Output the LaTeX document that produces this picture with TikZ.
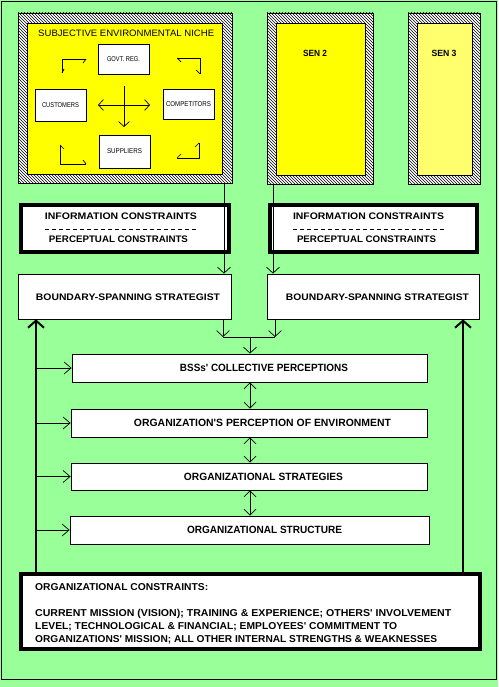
\documentclass[tikz,border=0pt]{standalone}
\usepackage{fontspec}
\setmainfont{Liberation Sans}
\usetikzlibrary{patterns,arrows.meta}
\definecolor{bggreen}{RGB}{153,255,153}
\definecolor{nicheyellow}{RGB}{255,255,0}
\definecolor{paleyellow}{RGB}{255,255,110}
\newcommand\fw[2]{\resizebox{#1pt}{\height}{#2}}
\newcommand\q{\textquotesingle}
\tikzset{
  wbox/.style={draw, fill=white, line width=0.8pt, inner sep=0pt},
  tbox/.style={draw, fill=white, line width=3.5pt, inner sep=0pt},
  hatchbox/.style={draw, line width=0.8pt, preaction={fill=white}, pattern=north west lines, inner sep=0pt},
  ybox/.style={draw, line width=0.8pt, fill=nicheyellow, inner sep=0pt},
  lab/.style={inner sep=0pt, font=\bfseries\fontsize{10.5}{12}\selectfont},
  slab/.style={inner sep=0pt, font=\bfseries\fontsize{9.5}{11}\selectfont},
  tlab/.style={inner sep=0pt, font=\fontsize{7}{8}\selectfont},
  conn/.style={line width=0.7pt},
  tipv/.style={conn, -{Straight Barb[length=6pt,width=13pt]}},
  tipvv/.style={conn, {Straight Barb[length=6pt,width=12pt]}-{Straight Barb[length=6pt,width=12pt]}},
  tiph/.style={conn, -{Straight Barb[length=7pt,width=12pt]}},
  tipup/.style={line width=2pt, -{Straight Barb[length=7pt,width=16pt]}},
  tips/.style={conn, -{Straight Barb[length=5pt,width=11pt]}},
  tipss/.style={conn, {Straight Barb[length=5pt,width=11pt]}-{Straight Barb[length=5pt,width=11pt]}},
}
\begin{document}
\begin{tikzpicture}[x=1pt,y=-1pt]
\useasboundingbox (0,0) rectangle (498,687);
\fill[bggreen] (0,0) rectangle (498,687);
\draw[line width=0.8pt] (1,1) rectangle (496,679);

% Subjective environmental niche
\node[hatchbox, minimum width=214pt, minimum height=170pt] (niche) at (125,98) {};
\node[ybox, minimum width=195pt, minimum height=151pt] (nicheIn) at (124.5,98.5) {};
\node[inner sep=0pt, anchor=base west, font=\fontsize{9.3}{10}\selectfont] (title) at (38,36.4) {\fw{176}{SUBJECTIVE ENVIRONMENTAL NICHE}};
\node[wbox, minimum width=51pt, minimum height=30pt] (govt) at (123.5,59) {};
\node[tlab] (govtL) at (govt) {\fw{33}{GOVT. REG.}};
\node[wbox, minimum width=51pt, minimum height=32pt] (cust) at (60.5,105) {};
\node[tlab] (custL) at (cust) {\fw{37}{CUSTOMERS}};
\node[wbox, minimum width=51pt, minimum height=30pt] (comp) at (188.5,104) {};
\node[tlab] (compL) at (comp) {\fw{45}{COMPETITORS}};
\node[wbox, minimum width=51pt, minimum height=33pt] (supp) at (124.5,151.5) {};
\node[tlab] (suppL) at (supp) {\fw{35}{SUPPLIERS}};
% cross
\coordinate (crL) at (98,105);
\coordinate (crR) at (150,105);
\coordinate (crT) at (124,86);
\coordinate (crB) at (124,127);
\draw[tipss] (crL) -- (crR);
\draw[tips] (crT) -- (crB);
% corner arrows
\draw[conn] (86,59) -- (62,59) -- (62,73);
\draw[conn] (86,59) -- (83,63);
\draw[conn] (62,73) -- (64,69);
\draw[conn] (177,58) -- (200,58) -- (200,74);
\draw[conn] (177,58) -- (181,62);
\draw[conn] (200,74) -- (196,70);
\draw[conn] (60,145) -- (60,164) -- (86,164);
\draw[conn] (60,145) -- (64,149);
\draw[conn] (86,164) -- (83,160);
\draw[conn] (199,143) -- (199,158) -- (177,158);
\draw[conn] (199,143) -- (195,147);
\draw[conn] (177,158) -- (181,154);

% SEN 2 and SEN 3
\node[hatchbox, minimum width=106pt, minimum height=171pt] (sen2) at (320,98.5) {};
\node[ybox, minimum width=89pt, minimum height=152pt] (sen2In) at (320.5,99) {};
\node[inner sep=0pt, font=\bfseries\fontsize{9}{10}\selectfont] (sen2L) at (315,53) {\fw{24}{SEN 2}};
\node[hatchbox, minimum width=72pt, minimum height=171pt] (sen3) at (444,98.5) {};
\node[ybox, fill=paleyellow, minimum width=55pt, minimum height=152pt] (sen3In) at (444.5,99) {};
\node[inner sep=0pt, font=\bfseries\fontsize{9}{10}\selectfont] (sen3L) at (444,53) {\fw{25}{SEN 3}};

% information / perceptual constraints
\node[tbox, minimum width=208pt, minimum height=47pt] (info1) at (125,228.5) {};
\node[slab] (info1a) at (121,216) {\fw{152}{INFORMATION CONSTRAINTS}};
\node[slab] (info1b) at (118.5,239) {\fw{139}{PERCEPTUAL CONSTRAINTS}};
\draw[line width=0.7pt, dash pattern=on 4pt off 3pt] (45,229) -- (196,229);
\node[tbox, minimum width=207pt, minimum height=47pt] (info2) at (373.5,228.5) {};
\node[slab] (info2a) at (368.5,216) {\fw{151}{INFORMATION CONSTRAINTS}};
\node[slab] (info2b) at (366.5,239) {\fw{139}{PERCEPTUAL CONSTRAINTS}};
\draw[line width=0.7pt, dash pattern=on 4pt off 3pt] (293,229) -- (444,229);

% boundary-spanning strategists
\node[wbox, minimum width=213pt, minimum height=45pt] (bss1) at (124.5,296.5) {};
\node[slab] (bss1L) at (128,297) {\fw{184}{BOUNDARY-SPANNING STRATEGIST}};
\node[wbox, minimum width=212pt, minimum height=45pt] (bss2) at (373,296.5) {};
\node[slab] (bss2L) at (377.5,297) {\fw{183}{BOUNDARY-SPANNING STRATEGIST}};

% niche -> bss
\coordinate (c1) at (224,0);
\coordinate (c2) at (273,0);
\draw[tipv] (niche.south -| c1) -- (bss1.north -| c1);
\draw[tipv] (sen2.south -| c2) -- (bss2.north -| c2);

% middle boxes
\node[wbox, minimum width=355pt, minimum height=28pt] (coll) at (249.5,368) {};
\node[lab] (collL) at (264,368) {\fw{168}{BSSs\q{} COLLECTIVE PERCEPTIONS}};
\node[wbox, minimum width=356pt, minimum height=28pt] (perc) at (249,423) {};
\node[lab] (percL) at (262.5,423) {\fw{257}{ORGANIZATION\q{}S PERCEPTION OF ENVIRONMENT}};
\node[wbox, minimum width=356pt, minimum height=27pt] (strat) at (249,476.5) {};
\node[lab] (stratL) at (263.5,477) {\fw{159}{ORGANIZATIONAL STRATEGIES}};
\node[wbox, minimum width=359pt, minimum height=28pt] (struc) at (249.5,530) {};
\node[lab] (strucL) at (264.5,530) {\fw{155}{ORGANIZATIONAL STRUCTURE}};

% merge
\coordinate (m1) at (223,337);
\coordinate (m2) at (275,337);
\coordinate (m) at (250,337);
\draw[tipv] (bss1.south -| m1) -- (m1);
\draw[tipv] (bss2.south -| m2) -- (m2);
\draw[conn] (m1) -- (m2);
\draw[tipv] (m) -- (coll.north -| m);
\draw[tipvv] (coll.south -| m) -- (perc.north -| m);
\draw[tipvv] (perc.south -| m) -- (strat.north -| m);
\draw[tipvv] (strat.south -| m) -- (struc.north -| m);

% organizational constraints
\node[tbox, minimum width=459pt, minimum height=75pt] (orgc) at (250.5,611.5) {};
\node[lab, font=\bfseries\fontsize{10}{12}\selectfont, anchor=base west] (orgc1) at (35,590.6) {\fw{173}{ORGANIZATIONAL CONSTRAINTS:}};
\node[lab, font=\bfseries\fontsize{10}{12}\selectfont, anchor=base west] (orgc2) at (35,616.6) {\fw{416}{CURRENT MISSION (VISION); TRAINING \& EXPERIENCE; OTHERS\q{} INVOLVEMENT}};
\node[lab, font=\bfseries\fontsize{10}{12}\selectfont, anchor=base west] (orgc3) at (35,629.6) {\fw{362}{LEVEL; TECHNOLOGICAL \& FINANCIAL; EMPLOYEES\q{} COMMITMENT TO}};
\node[lab, font=\bfseries\fontsize{10}{12}\selectfont, anchor=base west] (orgc4) at (35,642.6) {\fw{402}{ORGANIZATIONS\q{} MISSION; ALL OTHER INTERNAL STRENGTHS \& WEAKNESSES}};

% feedback lines
\coordinate (lft) at (36,0);
\coordinate (rgt) at (463,0);
\draw[tipup] (orgc.north -| lft) -- (bss1.south -| lft);
\draw[tipup] (orgc.north -| rgt) -- (bss2.south -| rgt);
\draw[tiph] (coll.west -| lft) -- (coll.west);
\draw[tiph] (perc.west -| lft) -- (perc.west);
\draw[tiph] (strat.west -| lft) -- (strat.west);
\draw[tiph] (struc.west -| lft) -- (struc.west);
\end{tikzpicture}
\end{document}
